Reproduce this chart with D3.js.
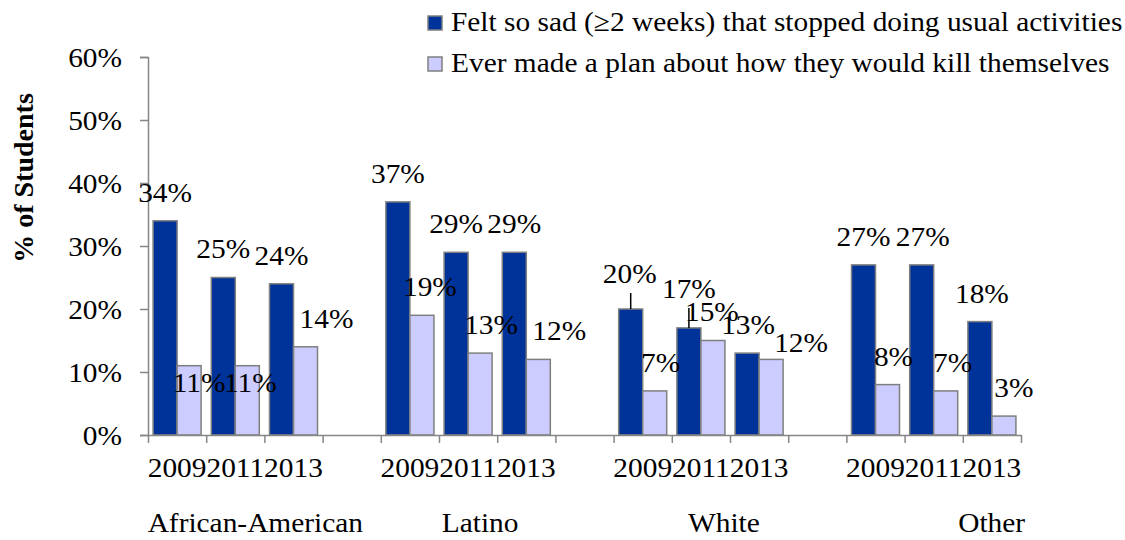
<!DOCTYPE html>
<html>
<head>
<meta charset="utf-8">
<script src="https://cdn.jsdelivr.net/npm/d3@7"></script>
<style>
  html, body { margin: 0; padding: 0; background: #ffffff; }
  svg { display: block; }
  text { font-family: "Liberation Serif", "Times New Roman", serif; fill: #000; }
</style>
</head>
<body>
<svg id="chart" width="1125" height="540"></svg>
<script>
// ---------- DATA ----------
const groups = ["African-American", "Latino", "White", "Other"];
const years = ["2009", "2011", "2013"];
const seriesNames = [
  "Felt so sad (\u22652 weeks) that stopped doing usual activities",
  "Ever made a plan about how they would kill themselves"
];
// values in group order, year order
const sadValues  = [34, 25, 24, 37, 29, 29, 20, 17, 13, 27, 27, 18];
const planValues = [11, 11, 14, 19, 13, 12,  7, 15, 12,  8,  7,  3];
const yTicks = [0, 10, 20, 30, 40, 50, 60];

// ---------- LAYOUT / STYLE ----------
const plot = { left: 148, right: 1021, top: 57, bottom: 435 };
const colors = ["#003399", "#CCCCFF"];
const barStroke = "#7f7f7f";
const axisColor = "#868686";
const FS = 28;    // font size
const SX = 1.05;  // slight horizontal stretch of the reference rendering
// label nudges [dx, dy] relative to default (centred, 19px above bar top)
const sadNudge  = [[0,0],[0,0],[0,0],[0,0],[0,0],[0,0],[-1,-7],[0,-11],[1,0],[0,0],[1,0],[2,0]];
const planNudge = [[10,45],[3,45],[21,0],[8,0],[11,0],[21,0],[6,0],[-1,0],[30,12],[6,0],[7,0],[10,0]];
const sadLeader = [false,false,false,false,false,false,true,true,false,false,false,false];
const groupLabelDx = [20, 12, 23, 58];

// ---------- BUILD SLOTS ----------
const slots = [];
groups.forEach((g, gi) => {
  years.forEach(y => slots.push({ key: g + "|" + y, group: g, year: y }));
  if (gi < groups.length - 1) slots.push({ key: g + "|gap", group: g, year: null });
});
const rows = [];
groups.forEach((g, gi) => years.forEach((y, yi) => {
  const i = gi * years.length + yi;
  rows.push({ key: g + "|" + y, group: g, year: y, idx: i,
              values: [sadValues[i], planValues[i]] });
}));

const svg = d3.select("#chart");

const x = d3.scaleBand()
  .domain(slots.map(s => s.key))
  .range([plot.left, plot.right])
  .paddingInner(0.175)
  .paddingOuter(0.0875);
const xInner = d3.scaleBand().domain([0, 1]).range([0, x.bandwidth()]);
const y = d3.scaleLinear().domain([0, 60]).range([plot.bottom, plot.top]);

function stretch(sel, sx) {
  sel.each(function() {
    const t = d3.select(this);
    const tx = +t.attr("x") || 0, ty = +t.attr("y") || 0;
    t.attr("transform", `translate(${tx},${ty}) scale(${sx},1) translate(${-tx},${-ty})`);
  });
}

// ---------- Y AXIS ----------
const yAxis = svg.append("g")
  .attr("transform", `translate(${plot.left},0)`)
  .call(d3.axisLeft(y).tickValues(yTicks).tickSize(8).tickPadding(18)
        .tickFormat(d => d + "%"));
yAxis.attr("font-family", null).attr("font-size", null);
yAxis.select(".domain").attr("stroke", axisColor).attr("stroke-width", 1.5);
yAxis.selectAll(".tick line").attr("stroke", axisColor).attr("stroke-width", 1.5);
yAxis.selectAll(".tick text")
  .attr("font-size", FS)
  .attr("fill", "#000").attr("dy", "0.34em").call(stretch, SX);

// ---------- BARS ----------
const barG = svg.append("g");
const rowG = barG.selectAll("g.row").data(rows).join("g")
  .attr("class", "row")
  .attr("transform", d => `translate(${x(d.key)},0)`);
rowG.selectAll("rect").data(d => d.values.map((v, si) => ({ v, si }))).join("rect")
  .attr("x", d => xInner(d.si))
  .attr("width", xInner.bandwidth())
  .attr("y", d => y(d.v))
  .attr("height", d => y(0) - y(d.v))
  .attr("fill", d => colors[d.si])
  .attr("stroke", barStroke)
  .attr("stroke-width", 1.5);

// ---------- X AXIS ----------
const xIdx = d3.scaleLinear().domain([0, slots.length]).range([plot.left, plot.right]);
const xAxis = svg.append("g")
  .attr("transform", `translate(0,${plot.bottom})`)
  .call(d3.axisBottom(xIdx).tickValues(d3.range(0, slots.length + 1))
        .tickSize(8).tickSizeOuter(0).tickFormat(""));
xAxis.select(".domain").attr("stroke", axisColor).attr("stroke-width", 1.5);
xAxis.selectAll(".tick line").attr("stroke", axisColor).attr("stroke-width", 1.5);

// year labels
svg.append("g").selectAll("text").data(rows).join("text")
  .attr("x", d => x(d.key) + x.bandwidth() / 2)
  .attr("y", 477)
  .attr("text-anchor", "middle")
  .attr("font-size", FS)
  .text(d => d.year)
  .call(stretch, SX);

// group labels
svg.append("g").selectAll("text").data(groups).join("text")
  .attr("x", (g, gi) => {
    const a = x(g + "|" + years[0]), b = x(g + "|" + years[years.length - 1]) + x.bandwidth();
    return (a + b) / 2 + groupLabelDx[gi];
  })
  .attr("y", 532)
  .attr("text-anchor", "middle")
  .attr("font-size", FS)
  .text(g => g)
  .call(stretch, SX);

// ---------- DATA LABELS ----------
const labG = svg.append("g");
rows.forEach(r => {
  [0, 1].forEach(si => {
    const v = r.values[si];
    const nud = (si === 0 ? sadNudge : planNudge)[r.idx];
    const cx = x(r.key) + xInner(si) + xInner.bandwidth() / 2;
    const top = y(v);
    const base = top - 19 + nud[1];
    if (si === 0 && sadLeader[r.idx]) {
      labG.append("line")
        .attr("x1", cx).attr("x2", cx)
        .attr("y1", top).attr("y2", base + 10)
        .attr("stroke", "#000").attr("stroke-width", 1.5);
    }
    labG.append("text")
      .attr("x", cx + nud[0]).attr("y", base)
      .attr("text-anchor", "middle")
      .attr("font-size", FS)
      .text(v + "%")
      .call(stretch, SX);
  });
});

// ---------- Y TITLE ----------
svg.append("text")
  .attr("transform", `translate(33,178) rotate(-90)`)
  .attr("text-anchor", "middle")
  .attr("font-size", 28)
  .attr("font-weight", "bold")
  .text("% of Students");

// ---------- LEGEND ----------
const leg = svg.append("g");
const legRows = [{ y: 16 }, { y: 57 }];
seriesNames.forEach((name, i) => {
  const g = leg.append("g").attr("transform", `translate(428,${legRows[i].y})`);
  g.append("rect").attr("x", 0).attr("y", 0).attr("width", 14).attr("height", 14)
    .attr("fill", colors[i]).attr("stroke", barStroke).attr("stroke-width", 1.5);
  g.append("text").attr("x", 23).attr("y", 15)
    .attr("font-size", FS).text(name).call(stretch, SX);
});
</script>
</body>
</html>
